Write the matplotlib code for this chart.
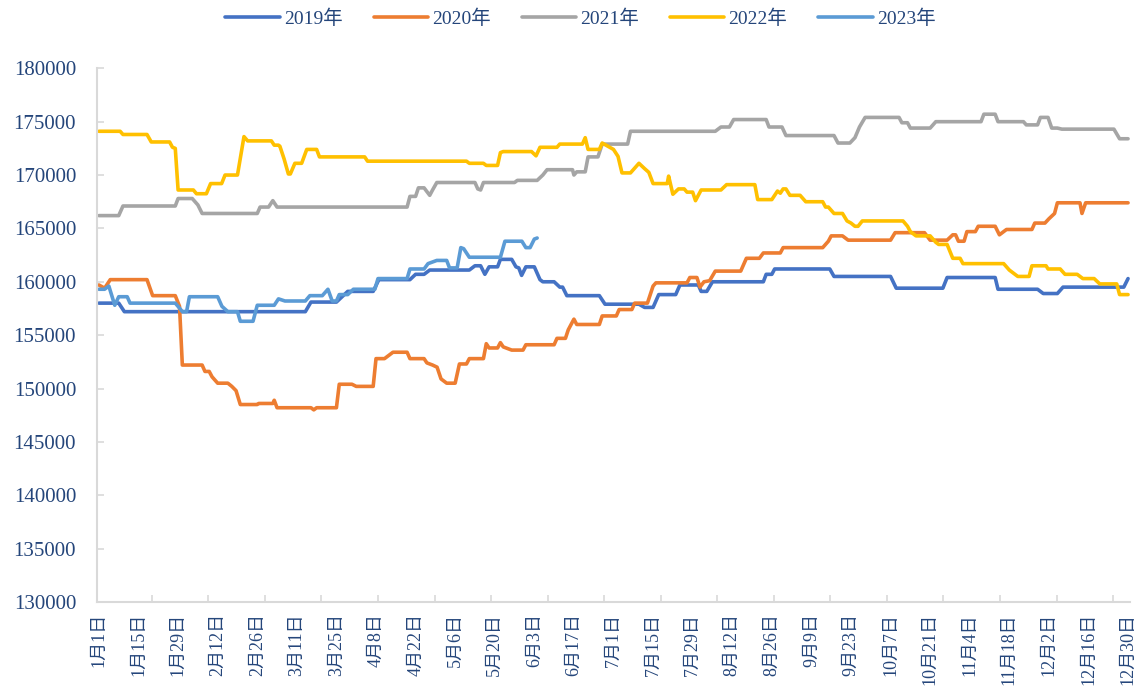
import numpy as np
import matplotlib
matplotlib.use("Agg")
import matplotlib.pyplot as plt
from matplotlib.ticker import FixedLocator

plt.rcParams['font.family'] = ['Liberation Serif', 'Noto Sans CJK SC', 'DejaVu Sans']

# day index on a 2020 calendar (0 = Jan 1)
days_2019 = [0, 7, 9, 73, 75, 84, 86, 88, 97, 99, 110, 112, 115, 117, 131, 133, 135, 136.5, 138, 141,
             142, 146, 147.5, 148.5, 149.5, 151, 154, 156, 157, 161, 163, 164, 165.5, 177, 179, 191,
             193, 196, 198, 204, 205.5, 212, 213, 215, 217, 235, 236, 238, 239, 258.5, 260, 280,
             282, 298.5, 300, 317, 318, 332, 334, 339, 341, 362.5, 364]
vals_2019 = [158000, 158000, 157200, 157200, 158100, 158100, 158600, 159100, 159100, 160200, 160200,
             160700, 160700, 161100, 161100, 161500, 161500, 160700, 161400, 161400, 162100, 162100,
             161400, 161300, 160600, 161400, 161400, 160200, 160000, 160000, 159500, 159500, 158700,
             158700, 157900, 157900, 157600, 157600, 158800, 158800, 159700, 159700, 159100, 159100,
             160000, 160000, 160700, 160700, 161200, 161200, 160500, 160500, 159400, 159400, 160400,
             160400, 159300, 159300, 158900, 158900, 159500, 159500, 160300]

days_2020 = [0, 2, 4, 17, 19, 27, 28.5, 29.5, 36.5, 37.5, 39, 40, 42, 45.6, 47, 48.5, 50, 56, 56.5,
             61.5, 62, 63, 75, 76, 77, 84, 85, 89.5, 91, 97, 98, 101, 102, 104, 109, 110, 115, 116,
             118, 119.6, 121, 123, 126, 127.5, 130, 131, 136, 137, 138, 141, 142, 143, 146, 150, 151,
             161, 162, 165, 166, 168, 169, 177, 178, 183, 184, 188.5, 189.5, 194, 196, 197, 208, 209,
             211.5, 212.6, 214, 216, 218, 227, 229, 233.6, 235, 241, 242, 256, 258, 259, 263, 265,
             280, 281.6, 292, 294, 300, 302, 303, 304, 306, 307, 310, 311, 317, 318.5, 321, 330, 331,
             334.6, 336, 338, 339, 347, 347.7, 349, 364]
vals_2020 = [159700, 159400, 160200, 160200, 158700, 158700, 157700, 152200, 152200, 151600, 151600,
             151100, 150500, 150500, 150200, 149800, 148500, 148500, 148600, 148600, 148900, 148200,
             148200, 148000, 148200, 148200, 150400, 150400, 150200, 150200, 152800, 152800, 153000,
             153400, 153400, 152800, 152800, 152400, 152200, 152000, 150900, 150500, 150500, 152300,
             152300, 152800, 152800, 154200, 153800, 153800, 154300, 153900, 153600, 153600, 154100,
             154100, 154700, 154700, 155500, 156500, 156000, 156000, 156800, 156800, 157400, 157400,
             158000, 158000, 159600, 159900, 159900, 160400, 160400, 159500, 160000, 160100, 161000,
             161000, 162200, 162200, 162700, 162700, 163200, 163200, 163800, 164300, 164300, 163900,
             163900, 164600, 164600, 163900, 163900, 164400, 164400, 163800, 163800, 164700, 164700,
             165200, 165200, 164400, 164900, 164900, 165500, 165500, 165900, 166400, 167400, 167400,
             166400, 167400, 167400]

days_2021 = [0, 7, 8.5, 27, 28, 33, 35, 36.5, 56, 57, 60, 61.5, 63, 109, 110, 112, 113, 115, 117, 118,
             119.5, 133, 134, 135, 136, 147, 148, 155, 157, 158.5, 167.5, 168, 169, 172, 173, 176.5,
             178, 187, 188, 218, 220, 223, 224.5, 236, 237, 241.6, 243, 260, 261.4, 265.6, 267.4, 269,
             271, 283, 284, 286, 287, 294, 296, 312, 313, 317, 318, 327, 328, 332, 333, 335.7, 337,
             339, 340.6, 359, 361, 364]
vals_2021 = [166200, 166200, 167100, 167100, 167800, 167800, 167200, 166400, 166400, 167000, 167000,
             167600, 167000, 167000, 168000, 168000, 168800, 168800, 168100, 168600, 169300, 169300,
             168700, 168600, 169300, 169300, 169500, 169500, 170000, 170500, 170500, 170000, 170300,
             170300, 171700, 171700, 172900, 172900, 174100, 174100, 174500, 174500, 175200, 175200,
             174500, 174500, 173700, 173700, 173000, 173000, 173500, 174500, 175400, 175400, 174900,
             174900, 174400, 174400, 175000, 175000, 175700, 175700, 175000, 175000, 174700, 174700,
             175400, 175400, 174400, 174400, 174300, 174300, 173400, 173400]

days_2022 = [0, 7.5, 8.5, 17, 18.5, 25, 26, 27, 28, 33.4, 34.5, 38, 39.5, 43.4, 44.6, 49, 51.3, 52.6,
             61, 62, 63.5, 64, 65.5, 67, 67.7, 69.3, 71.7, 73.5, 77, 78, 94, 95, 130, 131, 136, 137,
             141, 142, 143, 153, 154.6, 156, 162, 163, 171, 172, 173, 177, 178, 180, 182, 183.6, 185,
             188, 190, 191, 193, 194.5, 196, 201, 201.5, 203, 205, 207, 208, 210, 211, 213, 220, 222,
             232, 233, 238, 240, 241, 242, 243, 244.4, 248, 250, 256, 257, 258, 260, 263, 264.6, 266,
             267.4, 268.5, 270, 284.4, 286, 287, 289, 294, 296, 297, 300, 302, 304.6, 305.6, 320, 322,
             324, 325, 329, 330, 335, 335.7, 340, 341.7, 346, 348, 352, 354, 360, 361, 364]
vals_2022 = [174100, 174100, 173800, 173800, 173100, 173100, 172600, 172500, 168600, 168600, 168250,
             168250, 169200, 169200, 170000, 170000, 173600, 173200, 173200, 172800, 172800, 172700,
             171500, 170100, 170100, 171100, 171100, 172400, 172400, 171700, 171700, 171300, 171300,
             171100, 171100, 170900, 170900, 172100, 172200, 172200, 171800, 172600, 172600, 172900,
             172900, 173500, 172400, 172400, 173000, 172700, 172400, 171750, 170200, 170200, 170800,
             171100, 170600, 170250, 169200, 169200, 169900, 168200, 168700, 168700, 168400, 168400,
             167600, 168600, 168600, 169100, 169100, 167700, 167700, 168500, 168300, 168700, 168700,
             168100, 168100, 167500, 167500, 167000, 167000, 166400, 166400, 165700, 165500, 165200,
             165200, 165700, 165700, 165200, 164700, 164300, 164300, 163700, 163500, 163500, 162200,
             162200, 161700, 161700, 161100, 160700, 160500, 160500, 161500, 161500, 161200, 161200,
             160700, 160700, 160300, 160300, 159800, 159800, 158800, 158800]

days_2023 = [0, 2, 3.5, 5.6, 7, 10, 11, 27, 28.6, 29.5, 31, 32, 42, 43.5, 45.6, 49, 50, 54.5, 56, 62,
             63.5, 65.8, 73, 74.6, 79, 81, 82.5, 84, 85, 88, 90, 97.6, 98.7, 109, 110, 115, 116.4,
             119.5, 123, 124, 126.7, 128, 129, 131, 142, 143.6, 149.6, 151, 152.5, 154, 155]
vals_2023 = [159300, 159300, 159600, 157800, 158600, 158600, 158000, 158000, 157500, 157200, 157200,
             158600, 158600, 157700, 157200, 157200, 156300, 156300, 157800, 157800, 158400, 158200,
             158200, 158700, 158700, 159300, 158200, 158200, 158800, 158800, 159300, 159300, 160300,
             160300, 161200, 161200, 161700, 162000, 162000, 161300, 161300, 163200, 163100, 162300,
             162300, 163800, 163800, 163200, 163200, 164000, 164100]

series_names = ['2019年', '2020年', '2021年', '2022年', '2023年']
series_colors = ['#4472C4', '#ED7D31', '#A5A5A5', '#FFC000', '#5B9BD5']

tick_days = list(range(0, 365, 14))
tick_labels = ['1月1日', '1月15日', '1月29日', '2月12日', '2月26日', '3月11日', '3月25日',
               '4月8日', '4月22日', '5月6日', '5月20日', '6月3日', '6月17日', '7月1日',
               '7月15日', '7月29日', '8月12日', '8月26日', '9月9日', '9月23日', '10月7日',
               '10月21日', '11月4日', '11月18日', '12月2日', '12月16日', '12月30日']

text_color = '#24457a'
axis_color = '#D9D9D9'

fig = plt.figure(figsize=(11.38, 6.97), dpi=100)
ax = fig.add_axes([0.0852, 0.1363, 0.9078, 0.7657])

all_days = [days_2019, days_2020, days_2021, days_2022, days_2023]
all_vals = [vals_2019, vals_2020, vals_2021, vals_2022, vals_2023]
for d, v, name, c in zip(all_days, all_vals, series_names, series_colors):
    ax.plot(d, v, color=c, lw=2.6, label=name, solid_joinstyle='round', solid_capstyle='round')

ax.set_xlim(-0.7, 364.7)
ax.set_ylim(130000, 180000)
ax.set_yticks(np.arange(130000, 180001, 5000))

ax.xaxis.set_major_locator(FixedLocator(tick_days))
ax.set_xticklabels(tick_labels, rotation=90, fontsize=13, color=text_color)
ax.xaxis.set_minor_locator(FixedLocator(np.arange(18.7, 365, 20)))
ax.tick_params(axis='x', which='major', length=0, pad=8)
ax.tick_params(axis='x', which='minor', direction='in', length=5, width=1.2, color=axis_color)
ax.tick_params(axis='y', direction='in', length=5, width=1.2, color=axis_color,
               labelsize=15, labelcolor=text_color, pad=15)

for s in ['top', 'right']:
    ax.spines[s].set_visible(False)
for s in ['left', 'bottom']:
    ax.spines[s].set_color(axis_color)
    ax.spines[s].set_linewidth(1.5)

fig.legend(loc='center', bbox_to_anchor=(0.51, 0.973), ncol=5, frameon=False,
           fontsize=14, labelcolor=text_color, handlelength=2.8, handletextpad=0.2,
           columnspacing=1.6)

fig.savefig('out.png', dpi=100)
